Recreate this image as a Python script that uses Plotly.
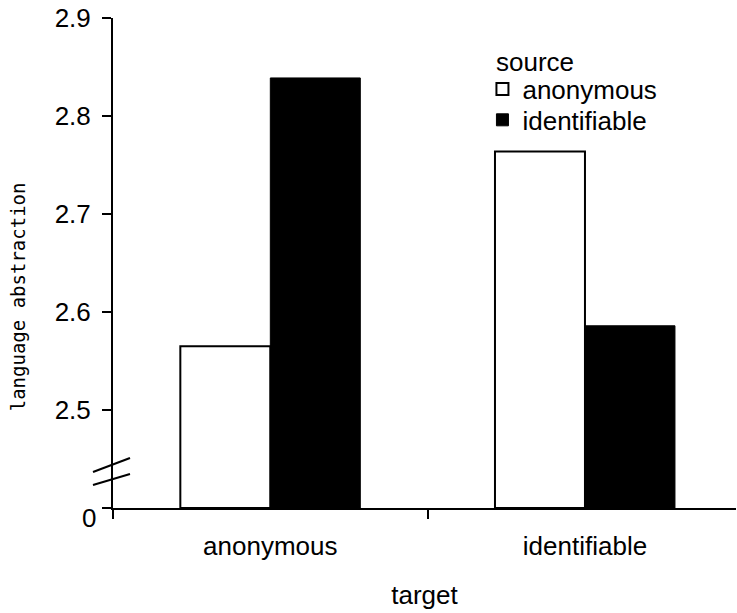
import plotly.graph_objects as go

targets = ["anonymous", "identifiable"]
source_anonymous = [2.565, 2.764]
source_identifiable = [2.839, 2.586]
y_tickvals = [2.4, 2.5, 2.6, 2.7, 2.8, 2.9]
y_ticktext = ["0", "2.5", "2.6", "2.7", "2.8", "2.9"]
BASE = 2.4

font = "Liberation Sans, Arial, Helvetica, sans-serif"
FS = 26

fig = go.Figure()
fig.add_trace(go.Bar(name="anonymous", x=targets, y=[v - BASE for v in source_anonymous], base=BASE,
                     legend="legend",
                     marker=dict(color="white", line=dict(color="black", width=2))))
fig.add_trace(go.Bar(name="identifiable", x=targets, y=[v - BASE for v in source_identifiable], base=BASE,
                     legend="legend2",
                     marker=dict(color="black", line=dict(color="black", width=1))))

axis_common = dict(showgrid=False, zeroline=False, linecolor="black", linewidth=2,
                   tickcolor="black", tickwidth=2, ticklen=9, automargin=False)
leg_common = dict(xanchor="left", yanchor="middle", bgcolor="rgba(0,0,0,0)",
                  font=dict(size=FS), itemwidth=30)

fig.update_layout(
    width=737, height=613,
    margin=dict(l=113, r=1, t=18, b=105, autoexpand=False),
    paper_bgcolor="white", plot_bgcolor="white",
    barmode="group", bargap=0.428, bargroupgap=0,
    font=dict(family=font, size=FS, color="black"),
    showlegend=True,
    legend=dict(x=0.593, y=0.855, **leg_common),
    legend2=dict(x=0.593, y=0.792, **leg_common),
    xaxis=dict(type="category", categoryarray=targets, range=[-0.5, 1.48],
               showline=True, ticks="outside", tickson="boundaries", ticklabelstandoff=14,
               title=dict(text="target", standoff=26, font=dict(size=FS)),
               tickfont=dict(size=FS), **axis_common),
    yaxis=dict(range=[2.4, 2.9002], tickvals=y_tickvals, ticktext=[""] + y_ticktext[1:],
               showline=True, ticks="outside", ticklabelstandoff=6, ticklabeloverflow="allow",
               tickfont=dict(size=FS), **axis_common),
    xaxis2=dict(type="category", categoryarray=targets, range=[-0.5, 1.48], overlaying="x",
                showline=False, ticks="inside", tickson="boundaries", showticklabels=False,
                showgrid=False, zeroline=False, tickcolor="black", tickwidth=2, ticklen=8),
    yaxis2=dict(range=[2.4, 2.9002], tickvals=y_tickvals, overlaying="y", showline=False,
                ticks="inside", showticklabels=False, showgrid=False, zeroline=False,
                tickcolor="black", tickwidth=2, ticklen=8),
)

# y-axis break marks
for y0, y1 in [(2.4367, 2.451), (2.4235, 2.4347)]:
    fig.add_shape(type="line", xref="paper", xsizemode="pixel", xanchor=0, x0=-20, x1=17,
                  yref="y", y0=y0, y1=y1, line=dict(color="black", width=2))

# "0" label sits a little below its tick
fig.add_annotation(text=y_ticktext[0], xref="paper", yref="y", x=0, xshift=-15, xanchor="right",
                   y=y_tickvals[0], yshift=-10, yanchor="middle", showarrow=False,
                   font=dict(size=FS, color="black"))

# legend title
fig.add_annotation(text="source", xref="paper", yref="paper", x=0.611, xanchor="left",
                   y=0.910, yanchor="middle", showarrow=False, font=dict(size=FS, color="black"))

fig.add_annotation(text="language abstraction", textangle=-90, xref="paper", yref="paper",
                   x=0, xshift=-95, xanchor="center", y=0.43, yanchor="middle", showarrow=False,
                   font=dict(family="DejaVu Sans Mono, monospace", size=19, color="black"))

fig.write_html("out.html", config={"displayModeBar": False},
               post_script="document.body.style.margin='0';document.body.style.overflow='hidden';")
